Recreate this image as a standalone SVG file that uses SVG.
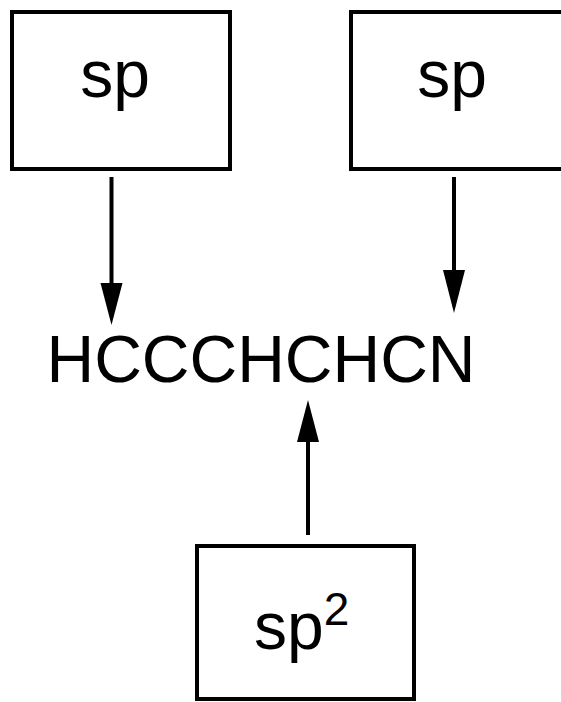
<svg xmlns="http://www.w3.org/2000/svg" width="561" height="702" viewBox="0 0 561 702">
<style>
.box{fill:#fff;stroke:#000;stroke-width:4}
.t{font-family:"Liberation Sans",Arial,sans-serif;font-size:66px;fill:#000}
.c{stroke:#000;stroke-width:4;fill:none}
.ah{fill:#000}
</style>
<rect width="561" height="702" fill="#fff"/>
<g id="sp1">
<rect class="box" x="12" y="12" width="218" height="157"/>
<text class="t" x="115" y="97" text-anchor="middle">sp</text>
</g>
<g id="sp2">
<rect class="box" x="351" y="12" width="220" height="157"/>
<text class="t" x="452" y="97" text-anchor="middle">sp</text>
</g>
<g id="mol">
<text class="t" x="261" y="382" text-anchor="middle">HCCCHCHCN</text>
</g>
<g id="sp2box">
<rect class="box" x="197" y="546" width="217" height="153"/>
<text class="t" x="254" y="649">sp<tspan font-size="46" dy="-24">2</tspan></text>
</g>
<g id="connectors">
<line class="c" x1="111.5" y1="177" x2="111.5" y2="290"/>
<polygon class="ah" points="100.5,283 122.5,283 111.5,325"/>
<line class="c" x1="454" y1="177" x2="454" y2="276"/>
<polygon class="ah" points="443,270 465,270 454,313"/>
<line class="c" x1="308" y1="535" x2="308" y2="436"/>
<polygon class="ah" points="297,442 319,442 308,400"/>
</g>
</svg>
